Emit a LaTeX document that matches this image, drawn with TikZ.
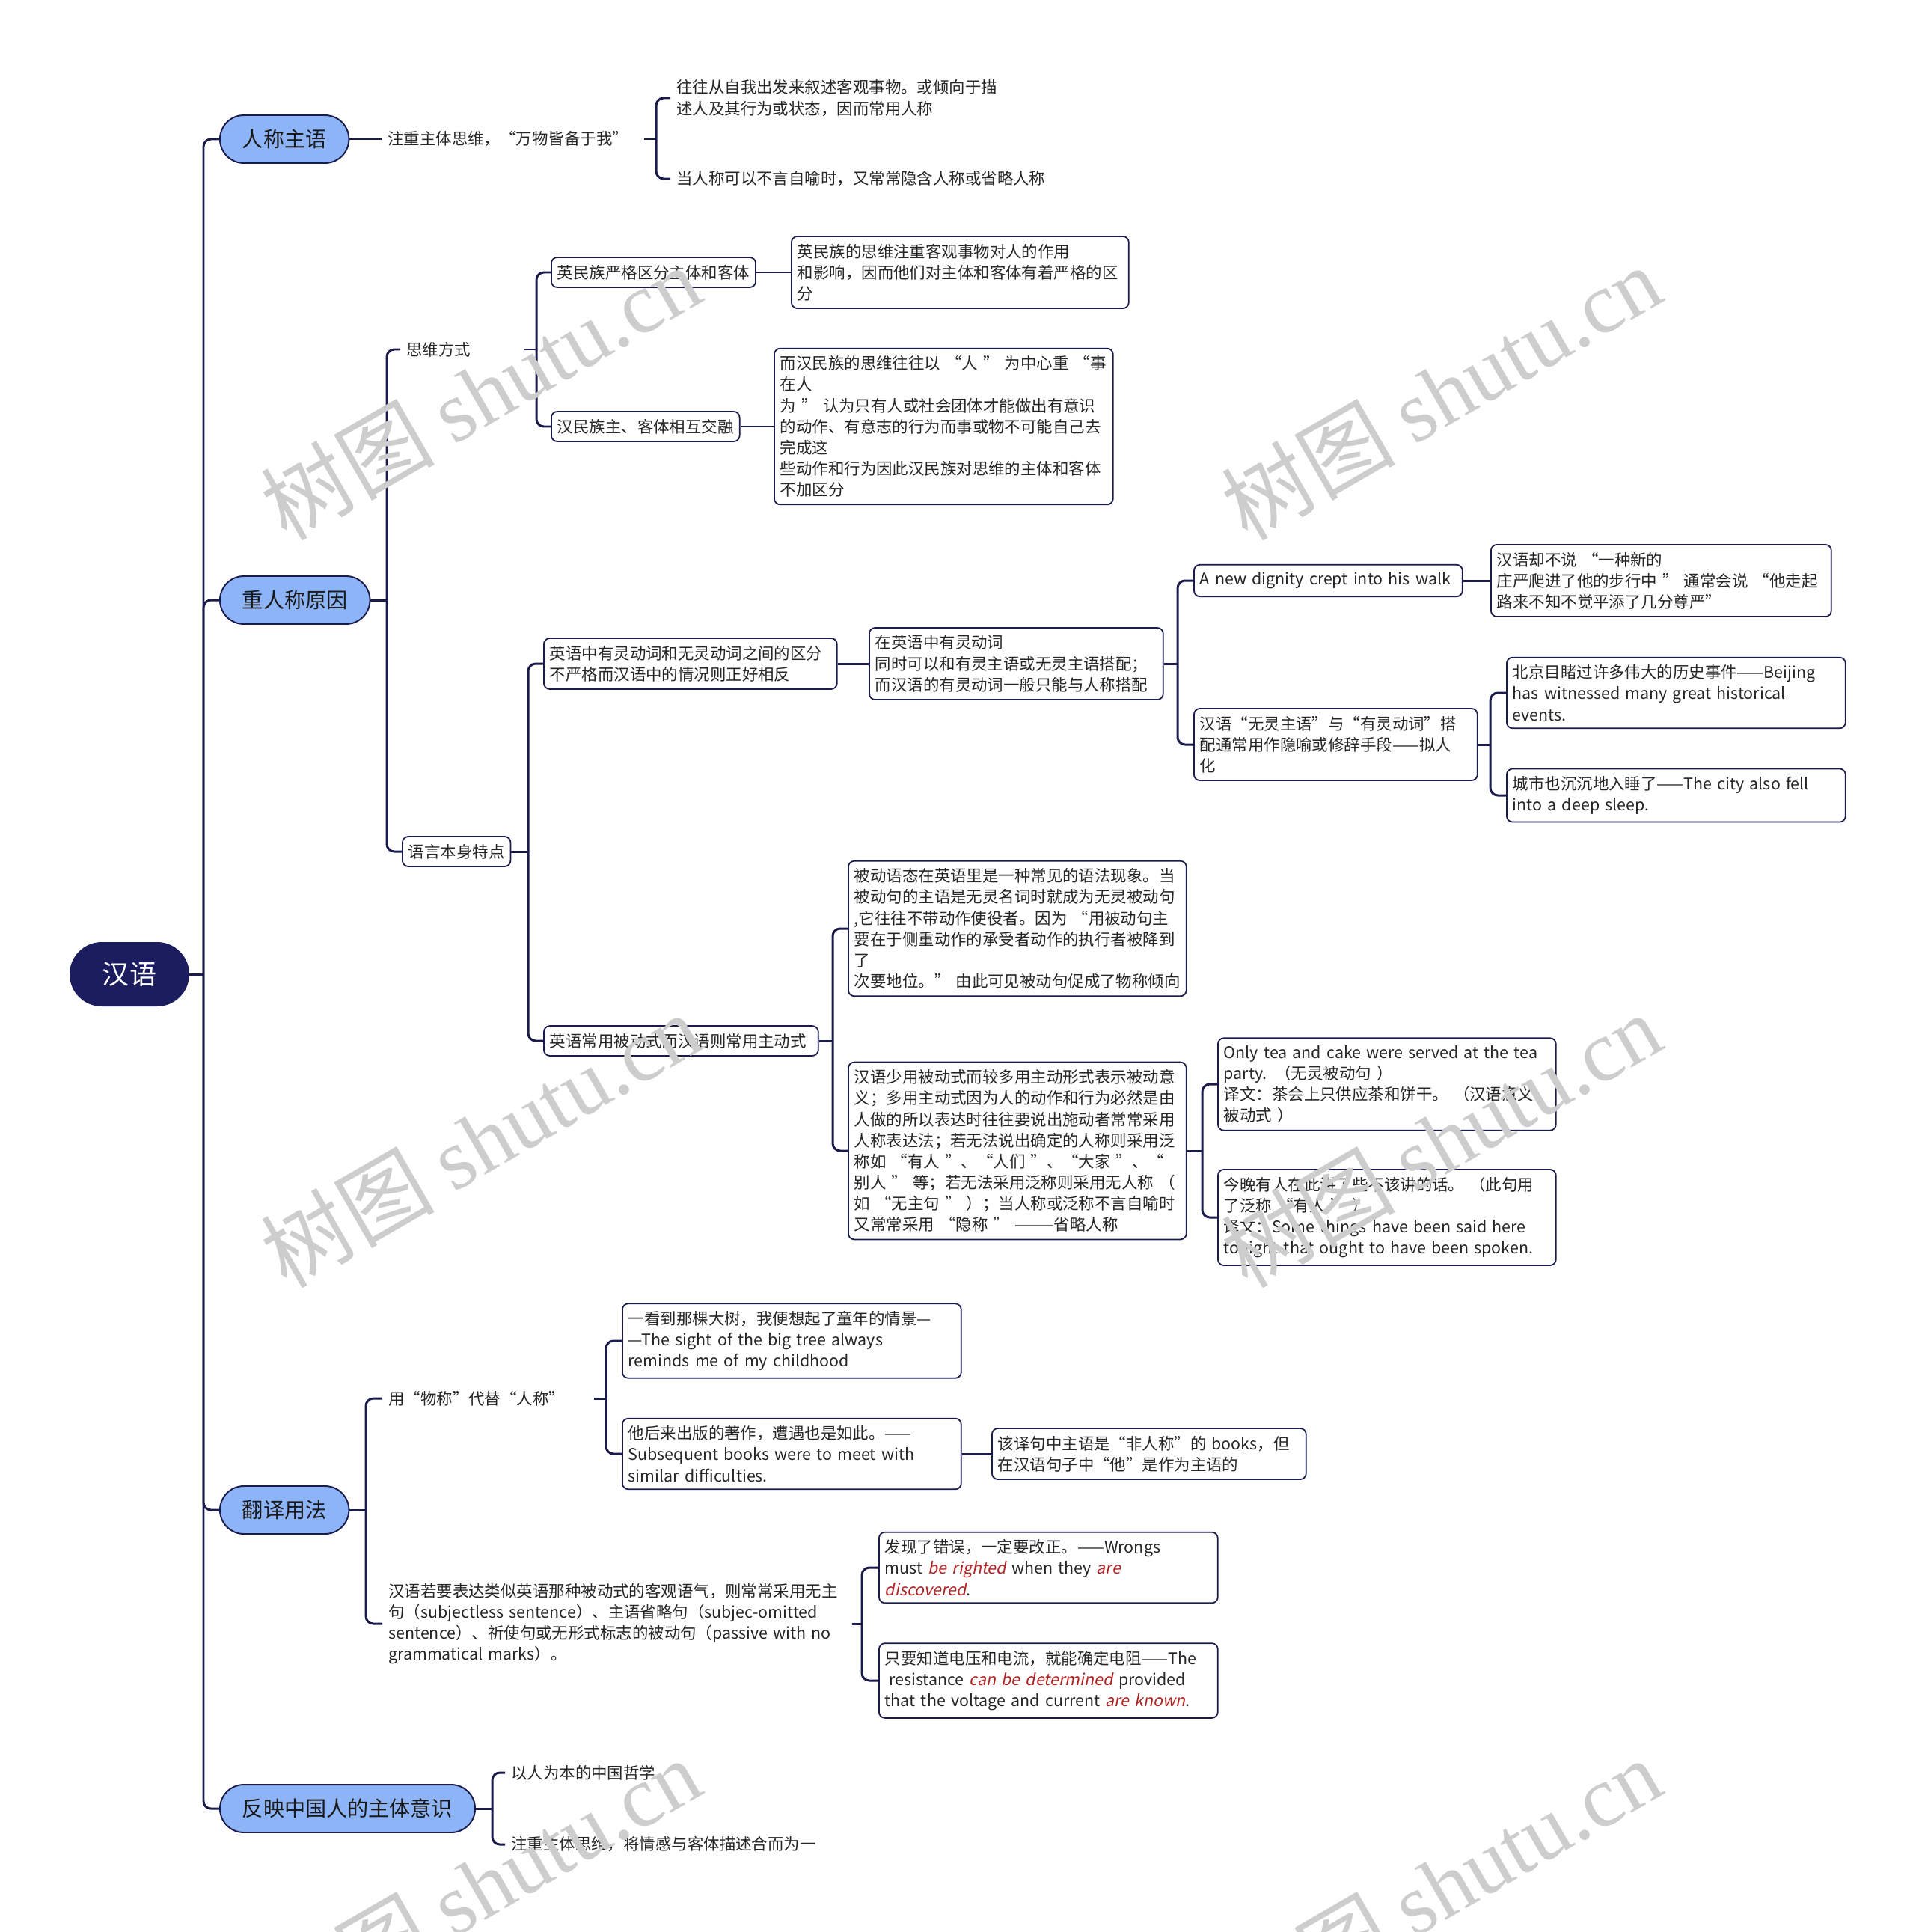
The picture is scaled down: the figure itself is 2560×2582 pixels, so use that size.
\documentclass[tikz,border=0pt]{standalone}
\usepackage{fontspec}
\setmainfont{Noto Sans CJK SC}[ItalicFont={Noto Sans CJK SC},ItalicFeatures={FakeSlant=0.2}]
\newfontfamily\wmserif{Liberation Serif}
\usepackage{xcolor}
\usetikzlibrary{calc,positioning}

\definecolor{rootblue}{RGB}{28,29,94}
\definecolor{mainblue}{RGB}{141,180,247}
\definecolor{linenavy}{RGB}{26,27,75}
\definecolor{darkred}{RGB}{178,34,34}
\definecolor{wmgray}{RGB}{205,205,205}

\newcommand{\redit}[1]{\textcolor{darkred}{\itshape #1}}

\tikzset{
  rootnode/.style={fill=rootblue, text=white, rounded corners=0.86cm, minimum height=1.72cm,
    inner xsep=0.88cm, font=\fontsize{20.5}{24}\selectfont},
  mainnode/.style={draw=linenavy, line width=1.1pt, fill=mainblue, text=black!90,
    rounded corners=0.64cm, minimum height=1.28cm, inner xsep=0.6cm, anchor=west,
    font=\fontsize{16}{19}\selectfont},
  card/.style={draw=linenavy, line width=1pt, fill=white, text=black!85, rounded corners=0.16cm,
    inner xsep=0.16cm, inner ysep=0.2cm, align=left, anchor=west,
    font=\fontsize{12.2}{16}\selectfont},
  bare/.style={inner xsep=0.16cm, text=black!85, align=left, anchor=west,
    font=\fontsize{12.2}{16}\selectfont},
  link/.style={draw=linenavy, line width=1.7pt, rounded corners=0.2cm},
  wmark/.style={text=wmgray, rotate=30, font=\fontsize{66}{70}\selectfont}
}

\begin{document}
\begin{tikzpicture}[x=0.02cm,y=-0.02cm]
  \useasboundingbox (0,0) rectangle (2560,2582);

  % root and main branches
  \node[rootnode] (root) at (173,1302) {汉语};
  \node[mainnode] (subj) at (293,186) {人称主语};
  \node[mainnode] (why) at (293,802) {重人称原因};
  \node[mainnode] (use) at (293,2018) {翻译用法};
  \node[mainnode] (mind) at (293,2417) {反映中国人的主体意识};

  % 人称主语
  \node[bare,text width=6.68cm] (subjA) at (510,186) {注重主体思维，“万物皆备于我”};
  \node[bare] (subjA1) at (896,131) {往往从自我出发来叙述客观事物。或倾向于描\\述人及其行为或状态，因而常用人称};
  \node[bare] (subjA2) at (896,239) {当人称可以不言自喻时，又常常隐含人称或省略人称};

  % 重人称原因: 思维方式
  \node[bare,text width=2.96cm] (think) at (535,467) {思维方式};
  \node[card] (eng) at (736,364) {英民族严格区分主体和客体};
  \node[card,text width=8.7cm] (engA) at (1057,364)
    {英民族的思维注重客观事物对人的作用\\和影响，因而他们对主体和客体有着严格的区\\分};
  \node[card] (han) at (736,570) {汉民族主、客体相互交融};
  \node[card,text width=8.74cm] (hanA) at (1034,570)
    {而汉民族的思维往往以 “人 ” 为中心重 “事\\在人\\为 ” 认为只有人或社会团体才能做出有意识\\的动作、有意志的行为而事或物不可能自己去\\完成这\\些动作和行为因此汉民族对思维的主体和客体\\不加区分};

  % 重人称原因: 语言本身特点
  \node[card] (lang) at (537,1138) {语言本身特点};
  \node[card,text width=7.52cm] (verb) at (726,887)
    {英语中有灵动词和无灵动词之间的区分\\不严格而汉语中的情况则正好相反};
  \node[card,text width=7.54cm] (verbA) at (1161,887)
    {在英语中有灵动词\\同时可以和有灵主语或无灵主语搭配；\\而汉语的有灵动词一般只能与人称搭配};
  \node[card,text width=6.86cm] (walk) at (1595,776) {A new dignity crept into his walk};
  \node[card,text width=8.78cm] (walkA) at (1992,776)
    {汉语却不说 “一种新的\\庄严爬进了他的步行中 ” 通常会说 “他走起\\路来不知不觉平添了几分尊严"};
  \node[card,text width=7.26cm] (meta) at (1595,995)
    {汉语“无灵主语”与“有灵动词”搭\\配通常用作隐喻或修辞手段——拟人\\化};
  \node[card,text width=8.74cm] (metaA) at (2013,926)
    {北京目睹过许多伟大的历史事件——Beijing\\has witnessed many great historical\\events.};
  \node[card,text width=8.74cm] (metaB) at (2013,1063)
    {城市也沉沉地入睡了——The city also fell\\into a deep sleep.};
  \node[card,text width=7.02cm] (pass) at (726,1391) {英语常用被动式而汉语则常用主动式};
  \node[card,text width=8.72cm] (passA) at (1133,1241)
    {被动语态在英语里是一种常见的语法现象。当\\被动句的主语是无灵名词时就成为无灵被动句\\,它往往不带动作使役者。因为 “用被动句主\\要在于侧重动作的承受者动作的执行者被降到\\了\\次要地位。” 由此可见被动句促成了物称倾向};
  \node[card,text width=8.72cm] (passB) at (1133,1538)
    {汉语少用被动式而较多用主动形式表示被动意\\义；多用主动式因为人的动作和行为必然是由\\人做的所以表达时往往要说出施动者常常采用\\人称表达法；若无法说出确定的人称则采用泛\\称如 “有人 ”、“人们 ”、“大家 ”、“\\别人 ” 等；若无法采用泛称则采用无人称 （\\如 “无主句 ” ）；当人称或泛称不言自喻时\\又常常采用 “隐称 ” ———省略人称};
  \node[card,text width=8.72cm] (passB1) at (1627,1449)
    {Only tea and cake were served at the tea\\party. （无灵被动句 ）\\译文：茶会上只供应茶和饼干。 （汉语意义\\被动式 ）};
  \node[card,text width=8.72cm] (passB2) at (1627,1627)
    {今晚有人在此讲了些不该讲的话。 （此句用\\了泛称 “有人 ” ）\\译文：Some things have been said here\\tonight that ought to have been spoken.};

  % 翻译用法
  \node[bare,text width=5.32cm] (thing) at (511,1869) {用“物称”代替“人称”};
  \node[card,text width=8.74cm] (tree) at (831,1792)
    {一看到那棵大树，我便想起了童年的情景—\\—The sight of the big tree always\\reminds me of my childhood};
  \node[card,text width=8.74cm] (books) at (831,1943)
    {他后来出版的著作，遭遇也是如此。——\\Subsequent books were to meet with\\similar difficulties.};
  \node[card,text width=8.08cm] (booksA) at (1325,1943)
    {该译句中主语是“非人称”的 books，但\\在汉语句子中“他”是作为主语的};
  \node[bare,text width=12.22cm] (nosubj) at (511,2170)
    {汉语若要表达类似英语那种被动式的客观语气，则常常采用无主\\句（subjectless sentence）、主语省略句（subjec-omitted\\sentence）、祈使句或无形式标志的被动句（passive with no\\grammatical marks）。};
  \node[card,text width=8.74cm] (wrong) at (1174,2095)
    {发现了错误，一定要改正。——Wrongs\\must \redit{be righted} when they \redit{are}\\\redit{discovered}.};
  \node[card,text width=8.74cm] (volt) at (1174,2246)
    {只要知道电压和电流，就能确定电阻——The\\\hspace{3pt}resistance \redit{can be determined} provided\\that the voltage and current \redit{are known}.};

  % 反映中国人的主体意识
  \node[bare] (mindA) at (675,2369) {以人为本的中国哲学};
  \node[bare] (mindB) at (675,2465) {注重主体思维，将情感与客体描述合而为一};

  % connectors
  \coordinate (s0) at (272,1302);
  \draw[link] (root.east) -- (s0);
  \foreach \c in {subj,why,use,mind} \draw[link] (s0) |- (\c.west);

  \draw[link] (subj.east) -- (subjA.west);
  \coordinate (s1) at (877,186);
  \draw[link] (subjA.east) -- (s1);
  \foreach \c in {subjA1,subjA2} \draw[link] (s1) |- (\c.west);

  \coordinate (s2) at (517,802);
  \draw[link] (why.east) -- (s2);
  \foreach \c in {think,lang} \draw[link] (s2) |- (\c.west);
  \coordinate (s21) at (717,467);
  \draw[link] (think.east) -- (s21);
  \foreach \c in {eng,han} \draw[link] (s21) |- (\c.west);
  \draw[link] (eng.east) -- (engA.west);
  \draw[link] (han.east) -- (hanA.west);

  \coordinate (s22) at (706,1138);
  \draw[link] (lang.east) -- (s22);
  \foreach \c in {verb,pass} \draw[link] (s22) |- (\c.west);
  \draw[link] (verb.east) -- (verbA.west);
  \coordinate (s23) at (1574,887);
  \draw[link] (verbA.east) -- (s23);
  \foreach \c in {walk,meta} \draw[link] (s23) |- (\c.west);
  \draw[link] (walk.east) -- (walkA.west);
  \coordinate (s24) at (1992,995);
  \draw[link] (meta.east) -- (s24);
  \foreach \c in {metaA,metaB} \draw[link] (s24) |- (\c.west);
  \coordinate (s25) at (1113,1391);
  \draw[link] (pass.east) -- (s25);
  \foreach \c in {passA,passB} \draw[link] (s25) |- (\c.west);
  \coordinate (s26) at (1607,1538);
  \draw[link] (passB.east) -- (s26);
  \foreach \c in {passB1,passB2} \draw[link] (s26) |- (\c.west);

  \coordinate (s3) at (489,2018);
  \draw[link] (use.east) -- (s3);
  \foreach \c in {thing,nosubj} \draw[link] (s3) |- (\c.west);
  \coordinate (s31) at (810,1869);
  \draw[link] (thing.east) -- (s31);
  \foreach \c in {tree,books} \draw[link] (s31) |- (\c.west);
  \draw[link] (books.east) -- (booksA.west);
  \coordinate (s32) at (1152,2170);
  \draw[link] (nosubj.east) -- (s32);
  \foreach \c in {wrong,volt} \draw[link] (s32) |- (\c.west);

  \coordinate (s4) at (658,2417);
  \draw[link] (mind.east) -- (s4);
  \foreach \c in {mindA,mindB} \draw[link] (s4) |- (\c.west);

  % watermarks
  \foreach \i/\x/\y in {1/642/524,2/1926/524,3/642/1523,4/1926/1523,5/642/2519,6/1926/2519}
    \node[wmark] (wm\i) at (\x,\y) {树图 {\wmserif shutu.cn}};
\end{tikzpicture}
\end{document}
